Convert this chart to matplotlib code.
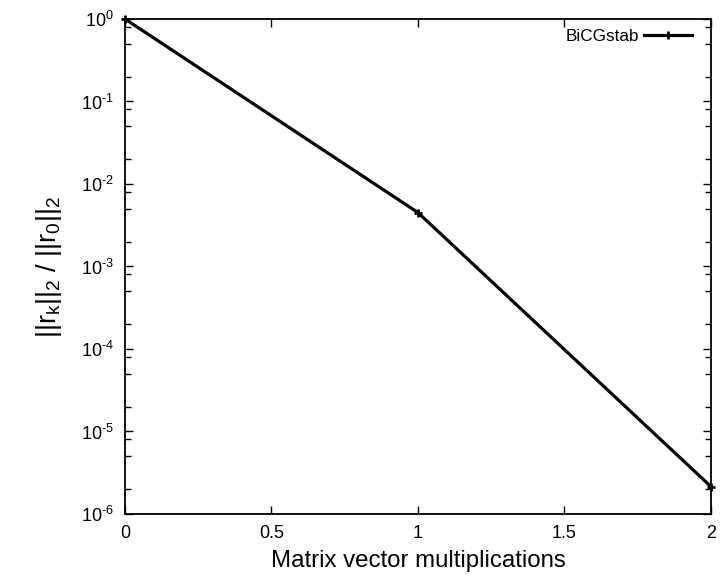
import matplotlib
matplotlib.use("Agg")
import matplotlib.pyplot as plt
from matplotlib.ticker import LogLocator, FixedLocator, FuncFormatter

plt.rcParams['font.family'] = ['Liberation Sans', 'DejaVu Sans']
plt.rcParams['mathtext.fontset'] = 'custom'
plt.rcParams['mathtext.rm'] = 'Liberation Sans'
plt.rcParams['mathtext.it'] = 'Liberation Sans'
plt.rcParams['mathtext.bf'] = 'Liberation Sans:bold'

x_vals = [0, 1, 2]
bicgstab = [1.0, 4.5e-3, 2.15e-6]
x_ticks = [0, 0.5, 1, 1.5, 2]
x_tick_labels = ['0', '0.5', '1', '1.5', '2']
y_ticks = [1e-6, 1e-5, 1e-4, 1e-3, 1e-2, 1e-1, 1e0]
y_exps = [-6, -5, -4, -3, -2, -1, 0]

fig = plt.figure(figsize=(7.21, 5.79), dpi=100)
ax = fig.add_axes([0.1734, 0.1123, 0.8126, 0.8549])

ax.plot(x_vals, bicgstab, color='black', linewidth=2.3, marker='+', markersize=6,
        markeredgewidth=2, label='BiCGstab', clip_on=False)
ax.set_yscale('log')
ax.set_xlim(0, 2)
ax.set_ylim(1e-6, 1e0)

ax.set_xticks(x_ticks)
ax.set_xticklabels(x_tick_labels)
ax.yaxis.set_major_locator(FixedLocator(y_ticks))
ax.set_yticklabels([r'$10^{\text{%d}}$' % e for e in y_exps])
ax.yaxis.set_minor_locator(LogLocator(base=10, subs=[2, 5, 8]))
ax.yaxis.set_minor_formatter(FuncFormatter(lambda v, p: ''))

ax.tick_params(axis='both', which='both', direction='in', top=True, right=True,
               labelsize=13, width=1)
ax.tick_params(which='major', length=6, pad=8)
ax.tick_params(which='minor', length=4)
for s in ax.spines.values():
    s.set_linewidth(1.3)

ax.set_xlabel('Matrix vector multiplications', fontsize=17.3, labelpad=6)
ax.set_ylabel(r'$||r_k||_2\ /\ ||r_0||_2$', fontsize=19.5, labelpad=12)

leg = ax.legend(loc='upper right', bbox_to_anchor=(0.988, 1.004), frameon=False,
                markerfirst=False, fontsize=12.3, handlelength=2.8,
                handletextpad=0.3, borderaxespad=0.3)

fig.savefig('out.png', dpi=100)
